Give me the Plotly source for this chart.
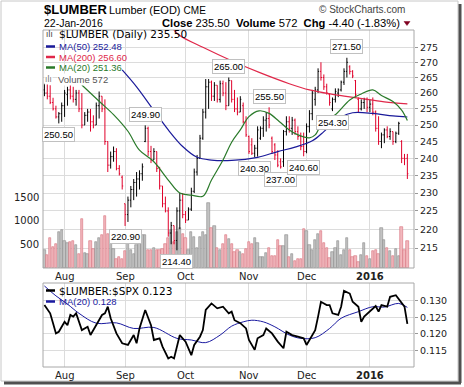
import math
import plotly.graph_objects as go

W, H = 464, 387
PL, PR, PT, PB = 43, 414, 30, 367
MAIN_BOTTOM, LOW_TOP = 268, 283

def fx(x):
    return (x - PL) / (PR - PL)

def fy(y):
    return (PB - y) / (PB - PT)

# ---------------- data ----------------
month_labels = ['Aug', 'Sep', 'Oct', 'Nov', 'Dec', '<b>2016</b>']
month_index = [7, 28, 49, 71, 91, 113]
price_ticks = [215, 220, 225, 230, 235, 240, 245, 250, 255, 260, 265, 270, 275]
volume_ticks = [500, 1000, 1500]
ratio_ticks = [0.115, 0.120, 0.125, 0.130]

opens = [261, 260, 259, 257, 255, 252.5, 253.5, 256, 259.5, 261,
         259, 258, 260, 255, 250, 253, 254, 251, 250, 256,
         259, 255, 245, 238, 240.5, 242, 237, 234.5, 227, 224,
         228, 231, 233, 234, 235.5, 245, 249, 242, 239.5, 242,
         237, 232, 227, 225, 219, 221, 217, 225, 228, 224,
         222.5, 225.5, 230.5, 236, 240, 246, 254, 262, 263.5, 259,
         262.5, 258, 263, 260, 256, 264, 258, 255, 254, 256,
         251, 246.5, 244, 241.5, 243, 246, 249, 251.5, 252, 246,
         244, 241, 239, 239, 248, 251, 249, 251.5, 248, 246.5,
         243.5, 242, 249.5, 253.5, 258, 261, 267, 265, 262, 259.5,
         255, 258, 260, 261, 263.5, 267, 268.5, 267, 264, 258,
         255, 257, 258, 255.5, 256.5, 254, 249, 245, 247, 248.5,
         246.5, 248, 245, 247.5, 245, 240, 240]
highs = [263, 263, 262.5, 258.5, 256, 254, 257, 261, 262, 263,
         262, 261, 261, 260, 254, 255, 255, 253, 257, 260.5,
         259, 258, 245, 242, 243.5, 243, 238, 235, 227, 229,
         232, 234, 236, 236.5, 238.5, 249.9, 249.5, 243.7, 243, 242,
         237.5, 232, 229, 226, 222, 221, 226, 230, 230, 225,
         226, 231.5, 237, 241, 247, 255, 264.5, 264.5, 264, 263.5,
         262.5, 264, 264, 263.5, 265, 264, 261, 258.6, 259, 257,
         252.7, 246.8, 246, 244, 249.6, 249.6, 252.7, 254, 255.5, 246.5,
         244.5, 242.4, 240, 248.5, 252.7, 252.7, 252.5, 252, 249.6, 247.7,
         247.7, 250.5, 254.6, 261, 262, 268, 270, 266, 263, 260,
         258.6, 261.5, 261.5, 264, 268, 271.5, 269, 267.4, 264.2, 258.6,
         258, 258.5, 258.6, 258, 258.6, 254.5, 252.7, 247.7, 249, 249.6,
         249, 248, 248, 251, 245.4, 241.3, 241.3]
lows = [259, 258, 256.5, 254.5, 252, 250.5, 251, 252.5, 256, 258,
        257, 256, 254, 249, 250, 251, 248, 249, 250, 252,
        254, 244, 236, 237, 239, 236.5, 235, 231, 220.9, 222,
        226, 228, 229, 231, 233.5, 244.8, 240.7, 238.6, 239.5, 236,
        231, 226, 224.6, 218, 216, 216, 214.4, 220, 223, 221.7,
        222.5, 225, 230, 235, 240, 245.5, 252, 255, 257.5, 257.5,
        257, 257, 259, 254.6, 256, 257, 254, 253, 254, 250.5,
        246.4, 241.3, 241, 240.3, 240.5, 245.5, 246.4, 248, 249, 241.3,
        239.5, 237.4, 237, 237.5, 246.8, 247.7, 247, 247, 245.5, 242.4,
        240.6, 241.5, 247.7, 251.5, 256, 260, 264, 261, 259.5, 256,
        254.3, 257, 258.7, 260.5, 262.6, 265, 266, 264.8, 258.4, 254,
        254.5, 255, 254, 254, 253, 248, 244, 243, 244.5, 246,
        245.5, 244, 244.5, 247, 238.6, 238, 234]
closes = [260, 259, 257, 255, 252.5, 253.5, 256, 260, 261, 259,
          258, 260, 255, 250, 253, 254, 251, 250, 256, 259,
          255, 245, 238, 240.5, 242, 237, 235.5, 232, 224, 228,
          231, 233, 234, 235.5, 237.5, 249, 242, 239.5, 242, 237,
          232, 227, 225, 219, 221, 217, 225, 228, 224, 222.5,
          225.5, 230.5, 236, 240, 246, 254, 262, 263.5, 259, 262.5,
          258, 263, 260, 256, 264, 258, 255, 254, 258, 251,
          247, 242, 241.5, 243, 248.5, 249, 251.5, 252, 250, 242,
          241, 238, 237.5, 248, 251, 249, 251.5, 248, 246.5, 243.5,
          242, 249.5, 253.5, 260, 261, 267, 265, 262, 260, 257,
          258, 260.5, 261, 263.5, 267, 270, 267, 265.5, 259.5, 255,
          257, 258, 255.5, 256.5, 254, 249, 245, 247, 248.5, 246.5,
          248, 245, 247.5, 250.5, 240, 239.9, 235.5]
volumes = [372, 270, 630, 450, 520, 760, 810, 580, 530, 550,
           570, 480, 300, 1050, 320, 300, 580, 400, 560, 640,
           700, 1110, 720, 600, 400, 190, 230, 200, 370, 550,
           390, 300, 480, 590, 710, 710, 390, 372, 430, 380,
           380, 400, 500, 640, 800, 550, 770, 840, 730, 640,
           380, 770, 655, 430, 655, 770, 700, 1380, 840, 890,
           430, 380, 510, 700, 625, 515, 337, 372, 337, 290,
           408, 550, 515, 640, 530, 230, 230, 316, 430, 265,
           265, 600, 457, 457, 700, 230, 300, 140, 195, 195,
           834, 785, 480, 372, 585, 726, 785, 530, 430, 215,
           337, 430, 570, 280, 372, 640, 372, 230, 265, 124,
           280, 530, 265, 195, 357, 386, 302, 850, 585, 430,
           357, 265, 408, 265, 870, 372, 572]

ma50_idx = [27, 32, 38, 43, 48, 53, 58, 65, 74, 81, 87, 93, 97, 100, 103, 107, 114, 121, 126]
ma50_val = [267.5, 262, 254.5, 248.5, 243.5, 240.3, 239.5, 239.4, 240.3, 242, 243.3, 245.2,
            248, 250.5, 252.5, 253.8, 253.6, 252.8, 252.48]
ma200_idx = [44, 47, 55, 65, 75, 85, 92, 100, 109, 118, 126]
ma200_val = [282, 279, 275, 270.5, 266.5, 263, 261, 259.6, 258.4, 257.2, 256.6]
ma20_idx = [13, 19, 24, 29, 33, 38, 43, 47, 51, 55, 58, 62, 65, 68, 71, 74.5, 78, 81.5, 85,
            88, 92, 94, 97, 101, 106, 110, 114, 117, 121, 124, 126]
ma20_val = [262.6, 257.4, 253.2, 248.1, 242.4, 239, 233.7, 230, 229.4, 229.1, 233.7, 239.5,
            244.8, 248.5, 252.6, 254.4, 253.6, 251.1, 248.5, 247, 246.1, 247, 251.5, 253.2,
            257.8, 259.7, 261, 259.2, 257.3, 254.6, 251.36]

ratio_idx = [0, 2, 3, 4, 5, 7, 8, 9, 10, 11, 13, 15, 16, 18, 20, 21, 22, 23, 25, 27, 29, 31, 32,
             33, 35, 37, 38, 40, 41, 43, 44, 45, 47, 49, 51, 52, 54, 55, 56, 58, 60, 62, 64, 65,
             66, 68, 70, 71, 73, 74, 76, 77, 79, 81, 83, 84, 86, 88, 90, 91, 92, 94, 95, 96, 98,
             99, 100, 102, 103, 104, 106, 107, 109, 110, 111, 113, 115, 116, 117, 119, 120, 122,
             124, 125, 126]
ratio_val = [0.1287, 0.1262, 0.1232, 0.1201, 0.1206, 0.1236, 0.1226, 0.1257, 0.1252, 0.1262,
             0.1211, 0.1221, 0.1196, 0.1226, 0.1257, 0.1262, 0.1282, 0.1247, 0.1201, 0.1171,
             0.1166, 0.1196, 0.1171, 0.1216, 0.1272, 0.1226, 0.1181, 0.1186, 0.1161, 0.1125,
             0.1130, 0.1125, 0.1196, 0.1176, 0.1135, 0.1166, 0.1191, 0.1211, 0.1272, 0.1292,
             0.1277, 0.1282, 0.1262, 0.1267, 0.1241, 0.1232, 0.1216, 0.1181, 0.1151, 0.1186,
             0.1196, 0.1216, 0.1201, 0.1176, 0.1156, 0.1206, 0.1196, 0.1191, 0.1186, 0.1166,
             0.1181, 0.1211, 0.1252, 0.1297, 0.1287, 0.1287, 0.1262, 0.1257, 0.1282, 0.1330,
             0.1322, 0.1297, 0.1282, 0.1236, 0.1252, 0.1267, 0.1284, 0.1267, 0.1287, 0.1282,
             0.1312, 0.1317, 0.1292, 0.1282, 0.123]
ratio_ma_idx = [0, 4, 8, 12, 18, 25, 31, 38, 46, 51, 56, 61, 65, 69, 72, 76, 80, 85, 89, 94,
                99, 103, 109, 114, 118, 123, 126]
ratio_ma_val = [0.1345, 0.1315, 0.1290, 0.1262, 0.1232, 0.1233, 0.1216, 0.1219, 0.1186,
                0.1181, 0.1173, 0.1196, 0.1223, 0.1236, 0.1241, 0.1236, 0.1221, 0.1196,
                0.1186, 0.1188, 0.1216, 0.1247, 0.1267, 0.1282, 0.1281, 0.1292, 0.128]

label_idx = [5, 28, 35, 46, 64, 73, 78, 82, 90, 100, 105]
label_kind = ['L', 'L', 'H', 'L', 'H', 'L', 'H', 'L', 'L', 'L', 'H']

# ---------------- derived ----------------
n = len(closes)
idx = list(range(n))
up = [True] + [closes[i] >= closes[i - 1] for i in range(1, n)]

x_range = [-0.49, 128.3]
price_range = [math.log10(209.8), math.log10(280.9)]
vol_range = [0, 5053]
ratio_range = [0.1099, 0.1354]

main_dom = [fy(MAIN_BOTTOM), 1.0]
low_dom = [0.0, fy(LOW_TOP)]

fig = go.Figure()

# volume
vcol = ['#f2b8bd' if not u else '#c2c2c2' for u in up]
vline = ['#d9707c' if not u else '#8a8a8a' for u in up]
fig.add_trace(go.Bar(x=idx, y=volumes, xaxis='x', yaxis='y', width=0.8,
                     marker=dict(color=vcol, line=dict(color=vline, width=0.6)),
                     hoverinfo='skip'))

# price bars (black = up close, red = down close)
for flag, col in [(True, '#000000'), (False, '#e0002a')]:
    sel = [i for i in idx if up[i] == flag]
    fig.add_trace(go.Ohlc(x=sel, open=[opens[i] for i in sel], high=[highs[i] for i in sel],
                          low=[lows[i] for i in sel], close=[closes[i] for i in sel],
                          xaxis='x', yaxis='y3', tickwidth=0.35,
                          increasing=dict(line=dict(color=col, width=1)),
                          decreasing=dict(line=dict(color=col, width=1)),
                          hoverinfo='skip'))

fig.add_trace(go.Scatter(x=ma200_idx, y=ma200_val, mode='lines', xaxis='x', yaxis='y3',
                         line=dict(color='#e0284a', width=1.2, shape='spline'), hoverinfo='skip'))
fig.add_trace(go.Scatter(x=ma50_idx, y=ma50_val, mode='lines', xaxis='x', yaxis='y3',
                         line=dict(color='#1a1a9a', width=1.2, shape='spline'), hoverinfo='skip'))
fig.add_trace(go.Scatter(x=ma20_idx, y=ma20_val, mode='lines', xaxis='x', yaxis='y3',
                         line=dict(color='#2a7a2a', width=1.2, shape='spline'), hoverinfo='skip'))

# lower panel
fig.add_trace(go.Scatter(x=ratio_ma_idx, y=ratio_ma_val, mode='lines', xaxis='x2', yaxis='y2',
                         line=dict(color='#1a1aa0', width=1, shape='spline'), hoverinfo='skip'))
fig.add_trace(go.Scatter(x=ratio_idx, y=ratio_val, mode='lines', xaxis='x2', yaxis='y2',
                         line=dict(color='#000000', width=1.8), hoverinfo='skip'))

grid = '#dcdcdc'
fig.update_layout(
    width=W, height=H, showlegend=False,
    margin=dict(l=PL, r=W - PR, t=PT, b=H - PB),
    paper_bgcolor='white', plot_bgcolor='white',
    bargap=0,
    xaxis=dict(domain=[0, 1], anchor='y', range=x_range, tickmode='array',
               tickvals=month_index, ticktext=month_labels, showgrid=True, gridcolor=grid,
               gridwidth=1, ticks='', showticklabels=False, zeroline=False,
               rangeslider=dict(visible=False), showline=False),
    xaxis2=dict(domain=[0, 1], anchor='y2', range=x_range, matches='x', tickmode='array',
                tickvals=month_index, ticktext=month_labels, showgrid=True, gridcolor=grid,
                ticks='', showticklabels=False, zeroline=False, showline=False),
    yaxis=dict(domain=main_dom, range=vol_range, side='left', tickmode='array',
               tickvals=volume_ticks, showgrid=False, zeroline=False, ticks='',
               showticklabels=False),
    yaxis3=dict(overlaying='y', anchor='x', type='log', range=price_range, side='right',
                tickmode='array', tickvals=price_ticks, ticktext=[str(t) for t in price_ticks],
                showgrid=True, gridcolor=grid, ticks='outside', ticklen=3, tickcolor='#999',
                tickfont=dict(family='DejaVu Sans', size=9.5, color='#222'), zeroline=False),
    yaxis2=dict(domain=low_dom, anchor='x2', range=ratio_range, side='right', tickmode='array',
                tickvals=ratio_ticks, ticktext=['%.3f' % t for t in ratio_ticks],
                showgrid=True, gridcolor=grid, ticks='outside', ticklen=3, tickcolor='#999',
                tickfont=dict(family='DejaVu Sans', size=9.5, color='#222'), zeroline=False),
)

shapes = []
# panel frames
shapes.append(dict(type='rect', xref='paper', yref='paper', x0=0, x1=1, y0=main_dom[0], y1=1,
                   line=dict(color='#a8a8a8', width=1)))
shapes.append(dict(type='rect', xref='paper', yref='paper', x0=0, x1=1, y0=0, y1=low_dom[1],
                   line=dict(color='#a8a8a8', width=1)))
# outer frame and shadow
shapes.append(dict(type='rect', xref='paper', yref='paper', x0=fx(1), x1=fx(458), y0=fy(1), y1=fy(381),
                   line=dict(color='#c8c8c8', width=1)))
shapes.append(dict(type='line', xref='paper', yref='paper', x0=fx(460), x1=fx(460), y0=fy(4), y1=fy(383),
                   line=dict(color='#505050', width=3)))
shapes.append(dict(type='line', xref='paper', yref='paper', x0=fx(4), x1=fx(461), y0=fy(383), y1=fy(383),
                   line=dict(color='#505050', width=3)))
# change arrow (down triangle)
shapes.append(dict(type='path', xref='paper', yref='paper',
                   path='M %f %f L %f %f L %f %f Z' % (fx(404), fy(21.5), fx(410), fy(21.5), fx(407), fy(25.5)),
                   fillcolor='#800020', line=dict(color='#800020', width=0.5)))
# legend swatches
for yy, col in [(46.5, '#1a1a9a'), (57, '#e0284a'), (67.5, '#2a7a2a')]:
    shapes.append(dict(type='line', xref='paper', yref='paper', x0=fx(46), x1=fx(55), y0=fy(yy), y1=fy(yy),
                       line=dict(color=col, width=2.5)))
for yy, col in [(290.5, '#000000'), (301.5, '#1a1aa0')]:
    shapes.append(dict(type='line', xref='paper', yref='paper', x0=fx(46), x1=fx(55), y0=fy(yy), y1=fy(yy),
                       line=dict(color=col, width=2.5)))
fig.update_layout(shapes=shapes)

ann = []

def txt(x, y, s, size=10, color='#000', family='Liberation Sans', xanchor='left', bg=None):
    d = dict(xref='paper', yref='paper', x=fx(x), y=fy(y), text=s, showarrow=False,
             xanchor=xanchor, yanchor='middle', font=dict(size=size, color=color, family=family))
    if bg:
        d['bgcolor'] = bg
        d['borderpad'] = 0
    ann.append(d)

txt(42, 9.5, '<b>$LUMBER</b>', 13)
txt(107, 10, 'Lumber (EOD) <span style="font-size:10px">CME</span>', 11)
txt(42, 23.5, '22-Jan-2016', 10.5)
txt(402, 23.5, '<b>Close</b> 235.50  <b>Volume</b> 572  <b>Chg</b> -4.40 (-1.83%)', 11.2, xanchor='right')
txt(407, 9.5, '© StockCharts.com', 10, color='#444', xanchor='right')

txt(44, 34.5, 'ılı', 8, color='#333', family='DejaVu Sans')
txt(57, 34.5, '$LUMBER (Daily) 235.50', 10.5, family='DejaVu Sans')
txt(57, 46.5, 'MA(50) 252.48', 9.5, color='#1a1a9a')
txt(57, 57, 'MA(200) 256.60', 9.5, color='#e0284a')
txt(57, 67.5, 'MA(20) 251.36', 9.5, color='#2a7a2a')
txt(44, 79, 'ıIı', 8, color='#777', family='DejaVu Sans', bg='white')
txt(57, 79, 'Volume 572', 9.5, color='#555', bg='white')

txt(57, 290.5, '$LUMBER:$SPX 0.123', 10.5, family='DejaVu Sans')
txt(57, 301.5, 'MA(20) 0.128', 9.5, color='#1a1aa0')

# volume axis labels (left)
for v in volume_ticks:
    ann.append(dict(xref='paper', yref='y', x=fx(41), y=v, text=str(v), showarrow=False,
                    xanchor='right', yanchor='middle',
                    font=dict(size=10, color='#222', family='DejaVu Sans')))

# month labels under both panels
for i, lab in zip(month_index, month_labels):
    for yy in (276.5, 375.5):
        ann.append(dict(xref='x', yref='paper', x=i, y=fy(yy), text=lab, showarrow=False,
                        xanchor='center', yanchor='middle',
                        font=dict(size=10, color='#222', family='DejaVu Sans')))

# high/low price labels
for i, k in zip(label_idx, label_kind):
    v = highs[i] if k == 'H' else lows[i]
    ann.append(dict(xref='x', yref='y3', x=i, y=math.log10(v), text='%.2f' % v,
                    showarrow=False, yshift=11 if k == 'H' else -11, bgcolor='white',
                    bordercolor='#c0c0c0', borderwidth=1, borderpad=1,
                    font=dict(size=9.5, color='#000', family='Liberation Sans')))

fig.update_layout(annotations=ann)
fig.write_html('out.html', config={'displayModeBar': False},
               post_script="document.body.style.margin='0';document.body.style.overflow='hidden';")
